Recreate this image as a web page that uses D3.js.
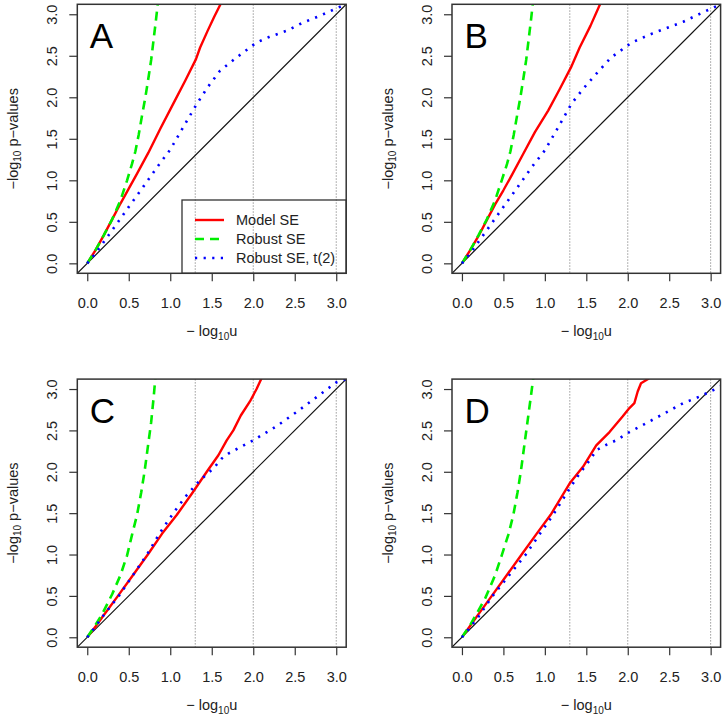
<!DOCTYPE html>
<html><head><meta charset="utf-8">
<script src="https://cdn.jsdelivr.net/npm/d3@7"></script>
<style>body{margin:0;background:#fff}</style>
</head><body><div id="chart"></div>
<script>
// ---------- data ----------
const panelLabels = ["A", "B", "C", "D"];
const xTicks = [0, 0.5, 1, 1.5, 2, 2.5, 3];
const yTicks = [0, 0.5, 1, 1.5, 2, 2.5, 3];
const refLines = [1.30103, 2, 3];
const seriesNames = ["Model SE", "Robust SE", "Robust SE, t(2)"];

const modelA = [[0,0],[0.1,0.16],[0.2,0.34],[0.3,0.53],[0.4,0.72],[0.5,0.9],[0.6,1.08],[0.735,1.33],[0.88,1.62],[1.04,1.93],[1.18,2.2],[1.31,2.46],[1.36,2.6],[1.45,2.8],[1.53,2.97],[1.61,3.13]];
const robustA = [[0,0],[0.1,0.16],[0.2,0.34],[0.3,0.53],[0.4,0.76],[0.48,1.0],[0.54,1.2],[0.58,1.35],[0.62,1.55],[0.66,1.78],[0.7,2.0],[0.735,2.22],[0.77,2.45],[0.8,2.7],[0.83,2.95],[0.85,3.13]];
const robustTA = [[0,0],[0.1,0.12],[0.2,0.26],[0.35,0.47],[0.5,0.68],[0.68,0.93],[0.85,1.17],[1.0,1.37],[1.15,1.63],[1.32,1.92],[1.45,2.12],[1.6,2.32],[1.8,2.48],[2.04,2.66],[2.2,2.73],[2.4,2.8],[2.6,2.9],[2.8,2.98],[3.0,3.07],[3.12,3.12]];

const modelB = [[0,0],[0.1,0.16],[0.2,0.33],[0.3,0.52],[0.4,0.71],[0.5,0.88],[0.6,1.06],[0.74,1.32],[0.88,1.58],[1.04,1.84],[1.18,2.1],[1.315,2.36],[1.42,2.6],[1.55,2.86],[1.67,3.13]];
const robustB = [[0,0],[0.1,0.16],[0.2,0.34],[0.3,0.53],[0.4,0.76],[0.48,1.0],[0.545,1.2],[0.585,1.35],[0.625,1.55],[0.665,1.78],[0.705,2.0],[0.74,2.22],[0.775,2.45],[0.805,2.7],[0.835,2.95],[0.855,3.13]];
const robustTB = [[0,0],[0.1,0.12],[0.2,0.26],[0.35,0.47],[0.5,0.68],[0.68,0.93],[0.85,1.17],[1.0,1.36],[1.15,1.62],[1.32,1.92],[1.46,2.1],[1.6,2.26],[1.8,2.48],[2.05,2.66],[2.3,2.77],[2.67,2.91],[2.9,3.02],[3.12,3.12]];

const modelC = [[0,0],[0.1,0.13],[0.2,0.27],[0.37,0.5],[0.55,0.75],[0.73,1.0],[0.9,1.25],[1.08,1.48],[1.27,1.75],[1.44,2.0],[1.58,2.2],[1.68,2.38],[1.76,2.5],[1.85,2.68],[1.96,2.85],[2.04,3.0],[2.1,3.13]];
const robustC = [[0,0],[0.1,0.15],[0.18,0.28],[0.3,0.52],[0.4,0.75],[0.48,0.99],[0.54,1.24],[0.6,1.48],[0.65,1.75],[0.69,2.0],[0.73,2.3],[0.77,2.6],[0.8,2.9],[0.82,3.13]];
const robustTC = [[0,0],[0.1,0.13],[0.2,0.27],[0.38,0.5],[0.55,0.75],[0.72,1.0],[0.88,1.27],[1.05,1.52],[1.2,1.72],[1.36,1.9],[1.52,2.04],[1.62,2.16],[1.7,2.22],[1.85,2.3],[2.0,2.38],[2.28,2.55],[2.56,2.75],[2.8,2.93],[3.0,3.08],[3.12,3.12]];

const modelD = [[0,0],[0.1,0.14],[0.2,0.28],[0.36,0.5],[0.54,0.75],[0.72,1.0],[0.9,1.25],[1.07,1.48],[1.3,1.86],[1.46,2.06],[1.62,2.32],[1.78,2.48],[1.94,2.67],[2.02,2.77],[2.08,2.83],[2.12,2.97],[2.16,3.07],[2.26,3.13]];
const robustD = [[0,0],[0.1,0.15],[0.18,0.29],[0.28,0.47],[0.4,0.75],[0.48,0.99],[0.56,1.24],[0.62,1.48],[0.67,1.75],[0.71,2.0],[0.75,2.3],[0.79,2.6],[0.83,2.9],[0.86,3.13]];
const robustTD = [[0,0],[0.1,0.12],[0.2,0.25],[0.37,0.5],[0.57,0.75],[0.77,1.0],[0.94,1.25],[1.1,1.48],[1.3,1.8],[1.42,1.98],[1.55,2.15],[1.62,2.26],[1.75,2.33],[1.86,2.38],[2.02,2.48],[2.34,2.65],[2.67,2.83],[2.87,2.91],[3.12,3.03]];

const panelSeries = [
  [modelA, robustA, robustTA],
  [modelB, robustB, robustTB],
  [modelC, robustC, robustTC],
  [modelD, robustD, robustTD]
];

// ---------- layout / style ----------
const W = 726, H = 721;
const cols = [[77.3, 346.2], [452, 720.6]];
const rows = [[4.3, 273.3], [379.1, 647.2]];
const domain = [-0.12, 3.12];
const FONT = "'Liberation Sans', Arial, Helvetica, sans-serif";
const styles = [
  {color: "#ff0000", dash: null, width: 2.4},
  {color: "#00ee00", dash: "9,6", width: 2.6},
  {color: "#0000ff", dash: "2.2,6.4", width: 2.6}
];

const svg = d3.select("#chart").append("svg")
  .attr("width", W).attr("height", H)
  .style("font-family", FONT);
svg.append("rect").attr("width", W).attr("height", H).attr("fill", "#fff");

panelLabels.forEach((lab, i) => {
  const c = cols[i % 2], r = rows[Math.floor(i / 2)];
  const x = d3.scaleLinear().domain(domain).range(c);
  const y = d3.scaleLinear().domain(domain).range([r[1], r[0]]);
  const g = svg.append("g");

  const clipId = "clip" + i;
  g.append("clipPath").attr("id", clipId).append("rect")
    .attr("x", c[0]).attr("y", r[0]).attr("width", c[1] - c[0]).attr("height", r[1] - r[0]);
  const plot = g.append("g").attr("clip-path", `url(#${clipId})`);

  // reference vertical lines
  plot.selectAll("line.ref").data(refLines).enter().append("line")
    .attr("x1", d => x(d)).attr("x2", d => x(d))
    .attr("y1", r[0]).attr("y2", r[1])
    .attr("stroke", "#9a9a9a").attr("stroke-width", 1).attr("stroke-dasharray", "1.5,1.5");

  // diagonal y = x
  plot.append("line")
    .attr("x1", x(domain[0])).attr("y1", y(domain[0]))
    .attr("x2", x(domain[1])).attr("y2", y(domain[1]))
    .attr("stroke", "#111").attr("stroke-width", 1.2);

  const line = d3.line().x(d => x(d[0])).y(d => y(d[1])).curve(d3.curveLinear);
  panelSeries[i].forEach((s, k) => {
    plot.append("path").datum(s).attr("d", line)
      .attr("fill", "none").attr("stroke", styles[k].color)
      .attr("stroke-width", styles[k].width)
      .attr("stroke-dasharray", styles[k].dash)
      .attr("stroke-linejoin", "round");
  });

  // box
  g.append("rect").attr("x", c[0]).attr("y", r[0]).attr("width", c[1] - c[0]).attr("height", r[1] - r[0])
    .attr("fill", "none").attr("stroke", "#333").attr("stroke-width", 1.5);

  // x axis
  const xa = g.append("g").attr("transform", `translate(0,${r[1]})`)
    .call(d3.axisBottom(x).tickValues(xTicks).tickSize(8).tickFormat(d3.format(".1f")));
  xa.select(".domain").remove();
  xa.selectAll(".tick line").attr("stroke", "#333").attr("stroke-width", 1.2);
  xa.selectAll(".tick text").attr("y", 35).attr("dy", null)
    .attr("font-size", "14.5px").attr("font-family", FONT).attr("fill", "#222");

  // y axis
  const ya = g.append("g").attr("transform", `translate(${c[0]},0)`)
    .call(d3.axisLeft(y).tickValues(yTicks).tickSize(8).tickFormat(d3.format(".1f")));
  ya.select(".domain").remove();
  ya.selectAll(".tick line").attr("stroke", "#333").attr("stroke-width", 1.2);
  ya.selectAll(".tick text").attr("x", null).attr("dy", null)
    .attr("transform", "translate(-25.5,0) rotate(-90)")
    .attr("text-anchor", "middle").attr("dominant-baseline", "central")
    .attr("font-size", "14.5px").attr("font-family", FONT).attr("fill", "#222");

  // axis titles
  const xt = g.append("text").attr("x", (c[0] + c[1]) / 2).attr("y", r[1] + 62.5)
    .attr("text-anchor", "middle").attr("font-size", "14.5px").attr("fill", "#222");
  xt.append("tspan").text("\u2212 log");
  xt.append("tspan").attr("font-size", "10px").attr("dy", 4).text("10");
  xt.append("tspan").attr("dy", -4).text("u");

  const cy = (r[0] + r[1]) / 2, cx = c[0] - 64.5;
  const yt = g.append("text").attr("transform", `translate(${cx},${cy}) rotate(-90)`)
    .attr("text-anchor", "middle").attr("dominant-baseline", "central")
    .attr("font-size", "14.5px").attr("fill", "#222");
  yt.append("tspan").text("\u2212log");
  yt.append("tspan").attr("font-size", "10px").attr("dy", 4).text("10");
  yt.append("tspan").attr("dy", -4).text(" p\u2212values");

  // panel letter
  g.append("text").attr("x", c[0] + 12.5).attr("y", r[0] + 43.5)
    .attr("font-size", "35px").attr("fill", "#000").text(lab);

  // legend in first panel
  if (i === 0) {
    const lx0 = 182, lx1 = c[1], ly0 = 200, ly1 = r[1];
    g.append("rect").attr("x", lx0).attr("y", ly0).attr("width", lx1 - lx0).attr("height", ly1 - ly0)
      .attr("fill", "none").attr("stroke", "#333").attr("stroke-width", 1.3);
    seriesNames.forEach((nm, k) => {
      const yy = 220 + k * 19;
      g.append("line").attr("x1", 195).attr("x2", 224).attr("y1", yy).attr("y2", yy)
        .attr("stroke", styles[k].color).attr("stroke-width", styles[k].width)
        .attr("stroke-dasharray", styles[k].dash);
      g.append("text").attr("x", 236).attr("y", yy).attr("dominant-baseline", "central")
        .attr("font-size", "14.5px").attr("fill", "#222").text(nm);
    });
  }
});
</script>
</body></html>
